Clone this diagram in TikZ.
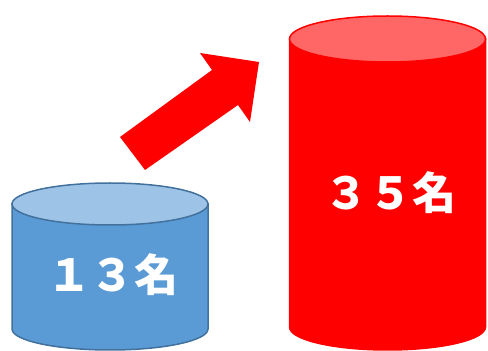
\documentclass[tikz,border=0pt]{standalone}
\usepackage{fontspec}
\newfontfamily\jpfont{Noto Sans CJK JP}
\usetikzlibrary{calc}

\begin{document}
\begin{tikzpicture}[x=1pt, y=1pt,
    countlabel/.style={text=white, font=\jpfont\bfseries\fontsize{44}{44}\selectfont, inner sep=0pt},
    bluebody/.style={fill={rgb,255:red,91;green,155;blue,213}, draw={rgb,255:red,65;green,113;blue,156}, line width=1.5pt},
    bluetop/.style={fill={rgb,255:red,157;green,195;blue,230}, draw={rgb,255:red,65;green,113;blue,156}, line width=1.5pt},
    redbody/.style={fill=red, draw=red, line width=1.5pt},
    redtop/.style={fill={rgb,255:red,255;green,102;blue,102}, draw=red, line width=1.5pt}]

        % the window: same size as the reference
        \useasboundingbox (0,0) rectangle (488,351);

        % small cylinder (before)
        \filldraw[bluebody] (12,147) -- (12,22) arc[start angle=180, end angle=360, x radius=98, y radius=21] -- (208,147) -- cycle;
        \filldraw[bluetop] (110,147) ellipse[x radius=98, y radius=21];
        \node[countlabel] (before) at (113,76) {１３名};

        % large cylinder (after)
        \filldraw[redbody] (289.5,312) -- (289.5,24) arc[start angle=180, end angle=360, x radius=98, y radius=23] -- (485.5,312) -- cycle;
        \filldraw[redtop] (387.5,312) ellipse[x radius=98, y radius=23];
        \node[countlabel] (after) at (390,158) {３５名};

        % the growth arrow
        \fill[red] (120,214) -- (212,281) -- (200,298) -- (259,289) -- (250,229) -- (238,246) -- (145,181) -- cycle;

\end{tikzpicture}
\end{document}
